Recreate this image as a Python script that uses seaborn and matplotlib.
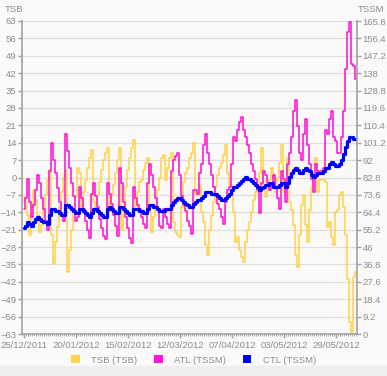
import pandas as pd
import seaborn as sns
import matplotlib.pyplot as plt
import matplotlib.dates as mdates
from matplotlib.patches import Patch, Rectangle

# daily values from 25/12/2011
start_date = "2011-12-25"

tsb = [
    -8, -10, -15, -23, -12, -5, -9, -15, -22, -19,
    -12, -7, -1, 3, -23, -35, -26, -20, -12, -6,
    0, 3, -38, -29, -21, -14, -8, 4, 2, -12,
    -6, -1, 4, 8, 11, -10, -14, -7, -2, 3,
    7, 10, 12, -14, -7, -3, 2, 7, 12, -21,
    -13, -4, 3, 8, 12, 15, -12, -6, -2, -1,
    3, 6, 8, -14, -22, -16, -11, -5, 0, 8,
    9, -1, 4, 8, 10, -18, -22, -23, -24, -12,
    -2, 2, 4, 8, 10, 14, -7, -6, -3, -14,
    -18, -27, -31, -21, -15, -10, -4, 1, 4, 6,
    9, 13, 2, -3, -4, -14, -26, -24, -29, -32,
    -34, -26, -21, -18, -14, -9, -6, -3, 2, 12,
    -3, -8, -5, -1, 4, 0, -6, 0, 6, 13,
    -6, -2, 8, -10, -13, -19, -31, -36, -23, -11,
    -7, -19, -26, -13, -4, 2, 8, -6, -1, -1,
    -1, -2, -20, -18, -24, -27, -14, -13, -7, -6,
    -12, -23, -41, -58, -62, -40, -38,
]

atl = [
    66, 72, 82, 70, 62, 68, 76, 84, 80, 72,
    66, 60, 55, 86, 101, 92, 85, 77, 70, 63,
    60, 106, 97, 88, 80, 73, 60, 62, 78, 72,
    66, 60, 55, 51, 74, 80, 73, 67, 61, 56,
    52, 50, 80, 74, 69, 63, 57, 52, 88, 80,
    70, 62, 56, 51, 48, 78, 72, 68, 66, 62,
    58, 56, 80, 90, 84, 78, 72, 66, 57, 56,
    66, 62, 58, 56, 86, 92, 94, 96, 84, 73,
    68, 65, 60, 57, 53, 76, 76, 74, 85, 90,
    100, 106, 96, 90, 84, 78, 73, 69, 66, 62,
    58, 70, 76, 78, 90, 104, 102, 108, 112, 115,
    108, 104, 100, 96, 90, 86, 82, 76, 64, 80,
    86, 84, 80, 76, 80, 84, 78, 72, 66, 86,
    82, 70, 90, 96, 104, 118, 124, 110, 96, 92,
    106, 114, 100, 90, 82, 75, 90, 86, 86, 86,
    88, 108, 106, 114, 118, 104, 102, 96, 96, 104,
    118, 140, 160, 165, 143, 142, 135,
]

ctl = [
    56, 57, 59, 58, 57, 59, 61, 62, 61, 60,
    59, 59, 58, 63, 66, 66, 65, 65, 64, 63,
    63, 68, 68, 67, 66, 65, 64, 64, 66, 66,
    65, 64, 63, 62, 64, 66, 66, 65, 64, 63,
    62, 62, 66, 67, 66, 65, 64, 64, 67, 67,
    66, 65, 64, 63, 63, 66, 66, 66, 65, 65,
    64, 64, 66, 68, 68, 67, 67, 66, 65, 65,
    65, 66, 66, 66, 68, 70, 71, 72, 72, 71,
    70, 69, 68, 67, 67, 69, 70, 71, 71, 72,
    73, 75, 75, 75, 74, 74, 74, 73, 72, 71,
    71, 72, 73, 74, 76, 78, 78, 79, 80, 81,
    82, 83, 82, 82, 81, 80, 79, 78, 76, 77,
    78, 79, 79, 80, 80, 78, 78, 78, 79, 80,
    80, 78, 80, 83, 85, 87, 88, 87, 85, 85,
    87, 88, 87, 86, 84, 83, 84, 85, 85, 85,
    86, 88, 88, 90, 91, 90, 89, 89, 90, 92,
    95, 99, 102, 104, 104, 103, 103,
]

tsb_ticks = [-63, -56, -49, -42, -35, -28, -21, -14, -7, 0,
             7, 14, 21, 28, 35, 42, 49, 56, 63]
tssm_ticks = [0, 9.2, 18.4, 27.6, 36.8, 46, 55.2, 64.4, 73.6, 82.8,
              92, 101.2, 110.4, 119.6, 128.8, 138, 147.2, 156.4, 165.6]
tssm_labels = ["0", "9.2", "18.4", "27.6", "36.8", "46", "55.2", "64.4", "73.6", "82.8",
               "92", "101.2", "110.4", "119.6", "128.8", "138", "147.2", "156.4", "165.6"]
date_ticks = ["2011-12-25", "2012-01-20", "2012-02-15", "2012-03-12",
              "2012-04-07", "2012-05-03", "2012-05-29"]

series_names = ["TSB (TSB)", "ATL (TSSM)", "CTL (TSSM)"]
series_colors = ["#ffd24f", "#ff14d8", "#0000ff"]

# %%
df = pd.DataFrame({
    "date": pd.date_range(start_date, periods=len(tsb), freq="D"),
    "TSB": tsb,
    "ATL": atl,
    "CTL": ctl,
})

sns.set_style("white")
plt.rcParams["font.family"] = ["Liberation Sans", "DejaVu Sans"]

bg = "#fbfaf8"
grey = "#8c8c8c"
fs = 6.8
fig = plt.figure(figsize=(3.87, 3.76), dpi=100, facecolor=bg)
fig.patches.append(Rectangle((0, 0), 1, 10 / 376, transform=fig.transFigure,
                             color="#eeeeee", zorder=-1))

ax = fig.add_axes([22 / 387, 42 / 376, 335 / 387, 313 / 376])
ax.set_facecolor(bg)
ax2 = ax.twinx()

sns.lineplot(x="date", y="TSB", data=df, color=series_colors[0], lw=1.15,
             drawstyle="steps-mid", ax=ax, legend=False)
sns.lineplot(x="date", y="ATL", data=df, color=series_colors[1], lw=1.15,
             drawstyle="steps-mid", ax=ax2, legend=False)
sns.lineplot(x="date", y="CTL", data=df, color=series_colors[2], lw=2.3,
             drawstyle="steps-mid", ax=ax2, legend=False)

# axes ranges
ax.set_ylim(-63, 63)
ax2.set_ylim(0, 165.6)
ax.set_xlim(pd.Timestamp("2011-12-24"), pd.Timestamp("2012-06-08 12:00"))

ax.set_yticks(tsb_ticks)
ax2.set_yticks(tssm_ticks)
ax2.set_yticklabels(tssm_labels)
ax.set_xticks(pd.to_datetime(date_ticks))
ax.xaxis.set_major_formatter(mdates.DateFormatter("%d/%m/%Y"))
ax.xaxis.set_minor_locator(mdates.DayLocator())

ax.yaxis.grid(True, color="#dedede", lw=0.9)
ax.xaxis.grid(False)
ax.set_axisbelow(True)

for a in (ax, ax2):
    a.set_xlabel("")
    a.set_ylabel("")
    for s in a.spines.values():
        s.set_visible(False)
ax.spines["left"].set_visible(True)
ax.spines["bottom"].set_visible(True)
ax2.spines["right"].set_visible(True)
for s in (ax.spines["left"], ax.spines["bottom"], ax2.spines["right"]):
    s.set_color("#a0a0a0")
    s.set_linewidth(1.2)

ax.tick_params(axis="y", length=3, width=1, color="#a0a0a0", labelcolor=grey,
               labelsize=fs, pad=1, left=True)
ax2.tick_params(axis="y", length=3, width=1, color="#a0a0a0", labelcolor=grey,
                labelsize=fs, pad=1, right=True)
ax.tick_params(axis="x", which="major", length=3, width=1, color="#a0a0a0",
               labelcolor=grey, labelsize=fs, pad=2, bottom=True)
ax.tick_params(axis="x", which="minor", length=1.5, width=0.6, color="#a0a0a0",
               bottom=True)

fig.text(5 / 387, 1 - 10 / 376, "TSB", color=grey, fontsize=fs, va="center")
fig.text(384 / 387, 1 - 10 / 376, "TSSM", color=grey, fontsize=fs, va="center",
         ha="right")

handles = [Patch(facecolor=c, edgecolor="none", label=n)
           for n, c in zip(series_names, series_colors)]
fig.legend(
    handles=handles,
    loc="center",
    bbox_to_anchor=(0.5, 1 - 360 / 376),
    ncol=3,
    frameon=False,
    fontsize=fs,
    labelcolor=grey,
    handlelength=0.9,
    handleheight=0.9,
    handletextpad=1.2,
    columnspacing=1.8,
)

fig.savefig("out.png", dpi=100, facecolor=bg)
